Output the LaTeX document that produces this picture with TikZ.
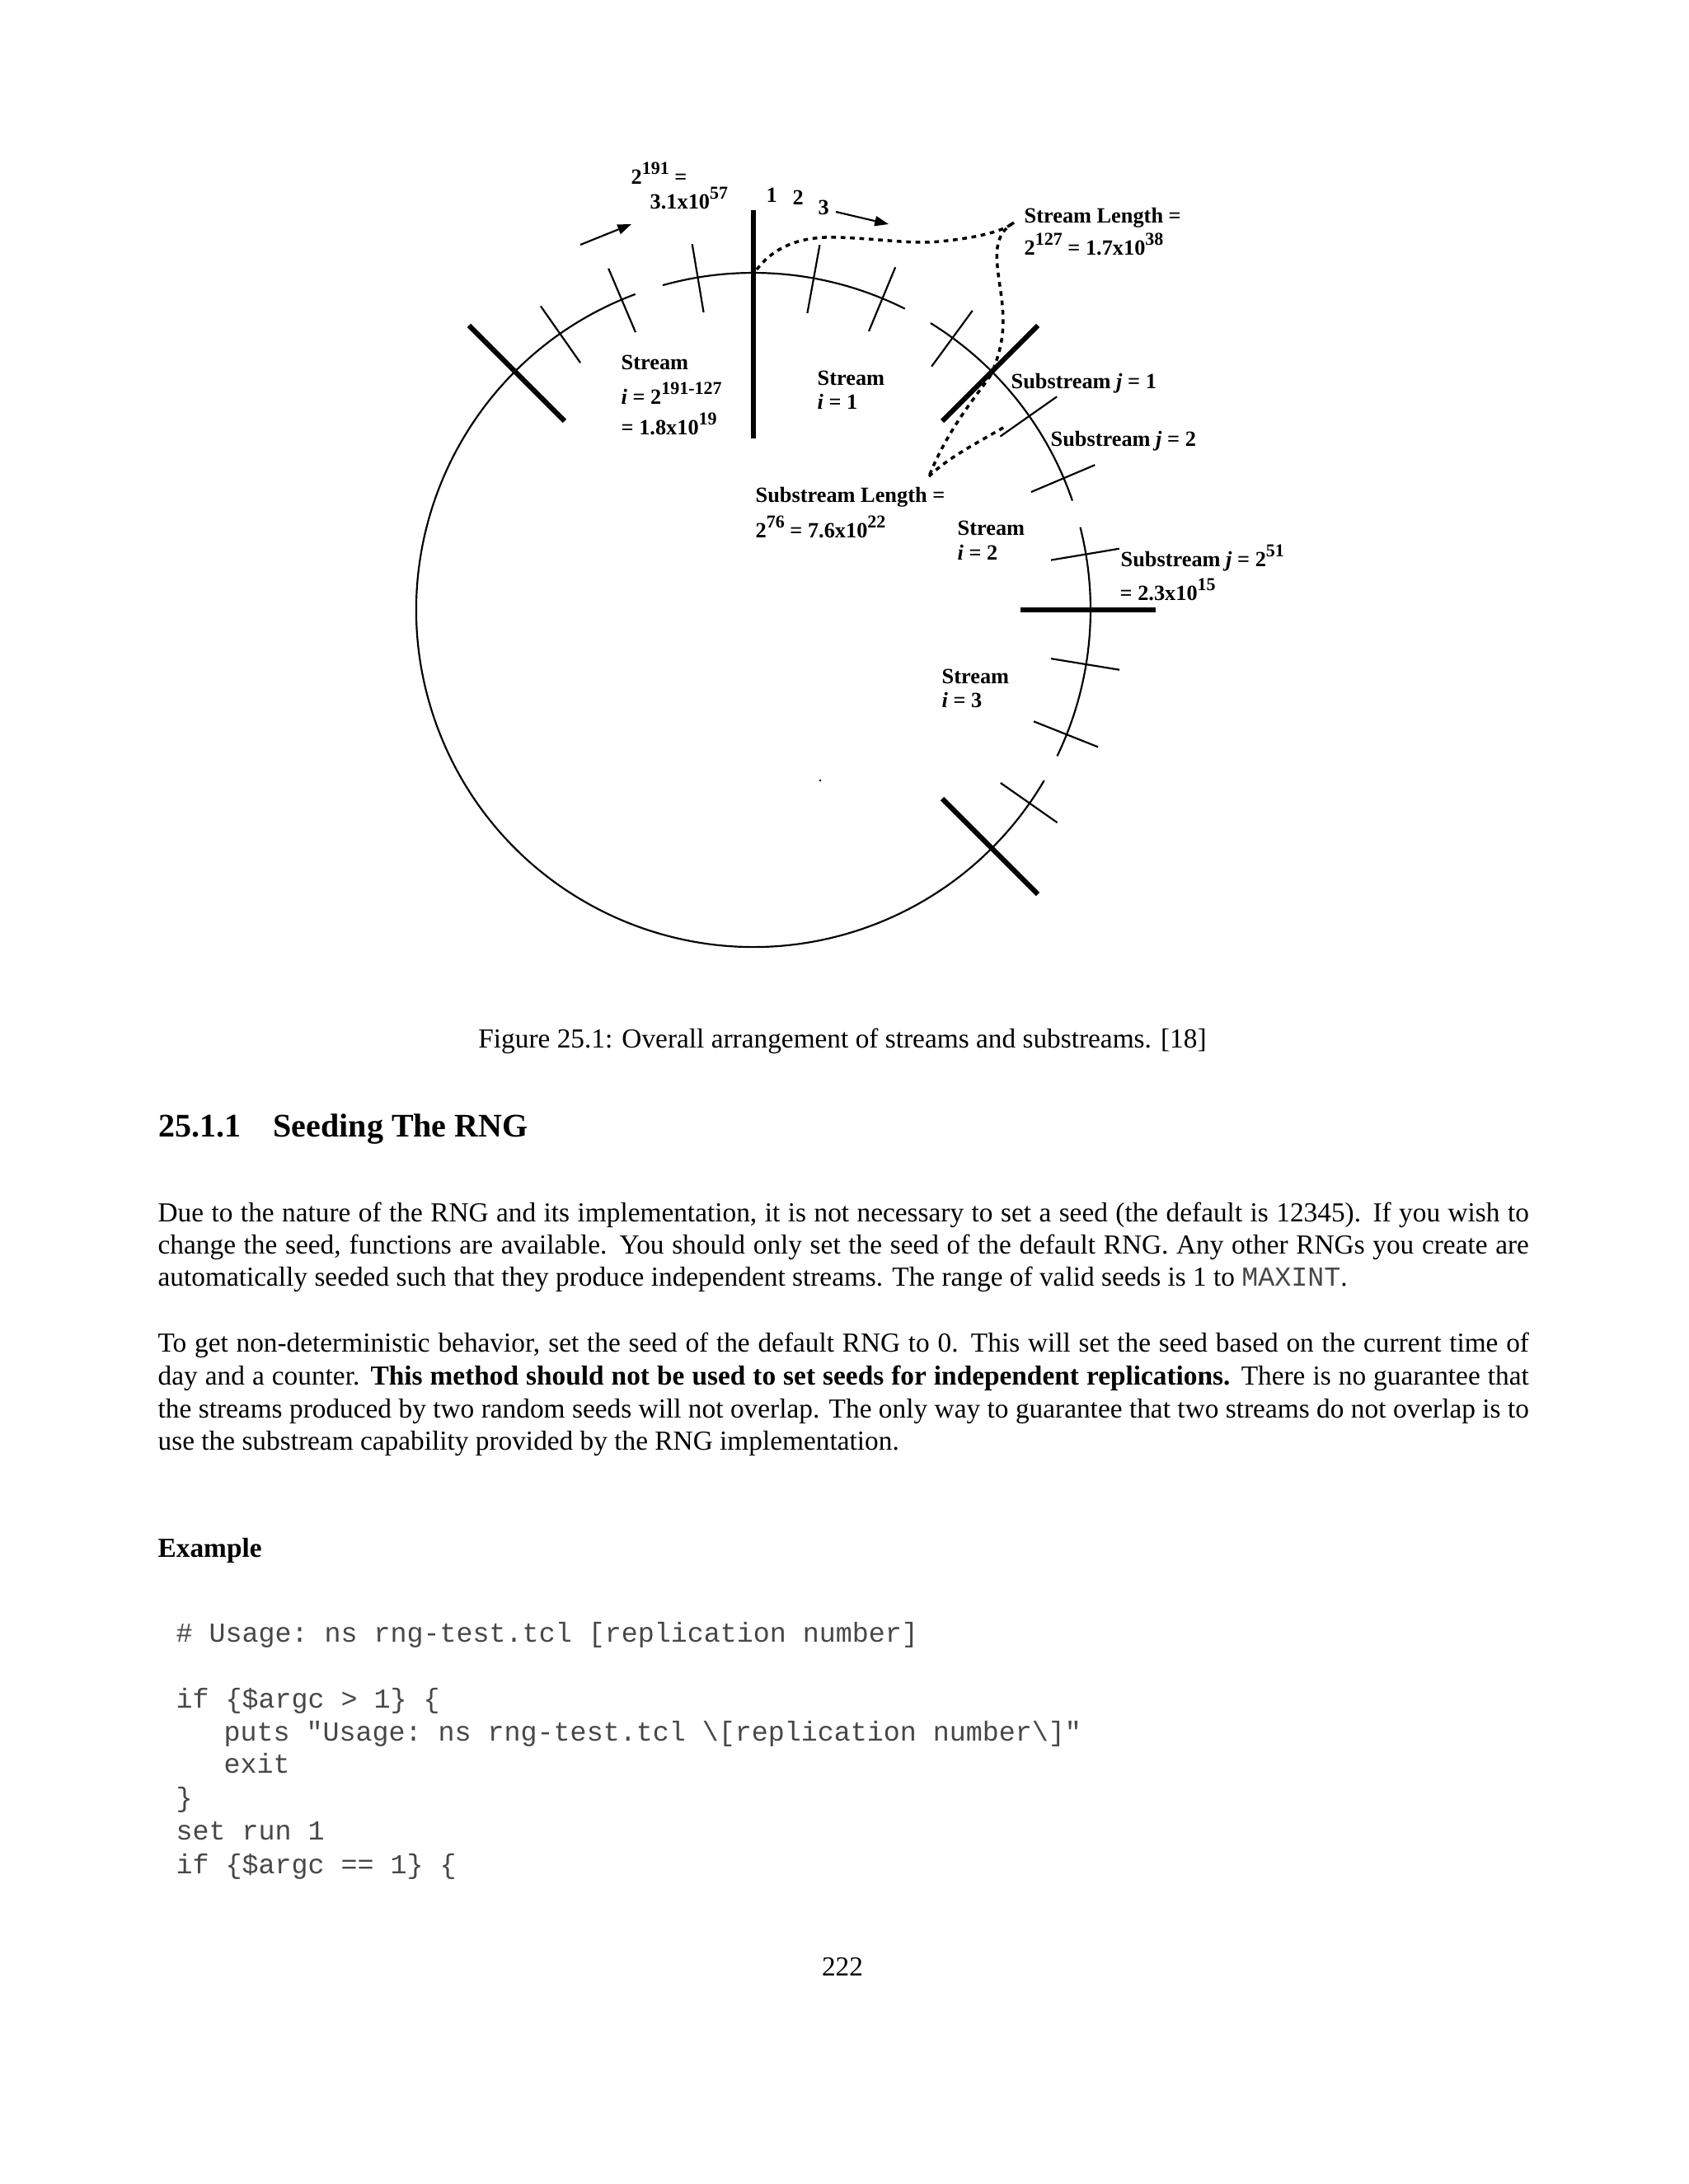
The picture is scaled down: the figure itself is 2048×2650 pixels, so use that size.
\documentclass[tikz,border=0pt]{standalone}
\usepackage{fontspec}
\setmainfont{Liberation Serif}
\setmonofont{Liberation Mono}
\usetikzlibrary{arrows.meta,calc}
\newcommand\upx[1]{\raisebox{3.4bp}{\fontsize{6.6}{6.6}\selectfont #1}}
\tikzset{
  lab/.style={font=\fontsize{7.9}{9}\selectfont\bfseries, inner sep=0pt, anchor=base west},
  body/.style={font=\fontsize{10}{12}\selectfont, inner sep=0pt, anchor=base west},
  code/.style={font=\fontsize{10}{12}\selectfont\ttfamily, text=black!72, inner sep=0pt, anchor=base west},
  thinline/.style={line width=0.65bp},
  thickline/.style={line width=1.8bp},
  dots/.style={line width=1.05bp, dash pattern=on 1.7bp off 1.7bp},
  arr/.style={line width=0.65bp, -{Triangle[length=5bp,width=3.6bp]}},
}
\begin{document}
\begin{tikzpicture}[x=0.29883bp, y=-0.29883bp]
\useasboundingbox (0,0) rectangle (2048,2650);
\fill[white] (0,0) rectangle (2048,2650);
\coordinate (C) at (914,740);
% circle, drawn in four pieces with small gaps
\draw[thinline] ($(C)+(-110.5:409)$) arc[start angle=-110.5, end angle=-329.6, radius=409];
\draw[thinline] ($(C)+(25.7:409)$) arc[start angle=25.7, end angle=-14.2, radius=409];
\draw[thinline] ($(C)+(-18.9:409)$) arc[start angle=-18.9, end angle=-58.3, radius=409];
\draw[thinline] ($(C)+(-63.3:409)$) arc[start angle=-63.3, end angle=-105.6, radius=409];
% thin ticks (substream boundaries)
\foreach \a in {-125,-113,-99.5,-79.7,-67.5,-53.8,-35.1,-23,-9.5,9.3,21.7,35}
  \draw[thinline] ($(C)+(\a:366)$) -- ($(C)+(\a:450)$);
% thick ticks (stream boundaries)
\foreach \a in {-135,-45,0,45}
  \draw[thickline] ($(C)+(\a:324)$) -- ($(C)+(\a:488)$);
\draw[thickline] ($(C)+(-90:208)$) -- ($(C)+(-90:485)$);
% reference points for the dotted braces
\coordinate (P90) at (918,327);
\coordinate (SL) at (1230,270);
\coordinate (P45) at (1202,455);
\coordinate (SSL) at (1127,578);
\coordinate (P35) at (1222,516);
\draw[dots] (P90) .. controls (935,305) and (960,290) .. (1000,288)
  .. controls (1050,287) and (1100,297) .. (1140,293)
  .. controls (1180,289) and (1215,282) .. (SL);
\draw[dots] (SL) .. controls (1205,285) and (1208,310) .. (1212,340)
  .. controls (1218,380) and (1222,410) .. (P45);
\draw[dots] (P45) .. controls (1185,480) and (1150,520) .. (SSL);
\draw[dots] (SSL) .. controls (1150,555) and (1190,535) .. (P35);
% arrows
\coordinate (a1s) at (704,297); \coordinate (a1e) at (766,272);
\coordinate (a2s) at (1014,257); \coordinate (a2e) at (1078,272);
\draw[arr] (a1s) -- (a1e);
\draw[arr] (a2s) -- (a2e);
% stray dot
\fill (995,947) circle (1.3);
% labels
\node[lab] (t1) at (765,223) {2\upx{191} =};
\node[lab] (t2) at (788,253) {3.1x10\upx{57}};
\node[lab] (n1) at (929,245) {1};
\node[lab] (n2) at (961,248) {2};
\node[lab] (n3) at (992,260) {3};
\node[lab] (s0a) at (753,448) {Stream};
\node[lab] (s0b) at (753,490) {\textit{i} = 2\upx{191-127}};
\node[lab] (s0c) at (753,527) {= 1.8x10\upx{19}};
\node[lab] (s1a) at (991,467) {Stream};
\node[lab] (s1b) at (991,496) {\textit{i} = 1};
\node[lab] (sla) at (1242,270) {Stream Length =};
\node[lab] (slb) at (1242,309) {2\upx{127} = 1.7x10\upx{38}};
\node[lab] (j1) at (1226,471) {Substream \textit{j} = 1};
\node[lab] (j2) at (1274,541) {Substream \textit{j} = 2};
\node[lab] (ssla) at (916,609) {Substream Length =};
\node[lab] (sslb) at (916,652) {2\upx{76} = 7.6x10\upx{22}};
\node[lab] (s2a) at (1161,649) {Stream};
\node[lab] (s2b) at (1161,679) {\textit{i} = 2};
\node[lab] (j3a) at (1359,687) {Substream \textit{j} = 2\upx{51}};
\node[lab] (j3b) at (1358,728) {= 2.3x10\upx{15}};
\node[lab] (s3a) at (1142,829) {Stream};
\node[lab] (s3b) at (1142,858) {\textit{i} = 3};
% caption
\node[body, anchor=base] (cap) at (1022,1271) {Figure 25.1: Overall arrangement of streams and substreams. [18]};
% section heading
\node[body, font=\fontsize{12}{14}\selectfont\bfseries] (secn) at (192,1379) {25.1.1};
\node[body, font=\fontsize{12}{14}\selectfont\bfseries] (sect) at (331,1379) {Seeding The RNG};
% paragraph 1
\node[body] (p1a) at (191,1482) {\makebox[497bp][s]{Due to the nature of the RNG and its implementation, it is not necessary to set a seed (the default is 12345). If you wish to}};
\node[body] (p1b) at (191,1521) {\makebox[497bp][s]{change the seed, functions are available. You should only set the seed of the default RNG. Any other RNGs you create are}};
\node[body] (p1c) at (191,1560) {automatically seeded such that they produce independent streams. The range of valid seeds is 1 to \texttt{\color{black!72}MAXINT}.};
% paragraph 2
\node[body] (p2a) at (191,1640) {\makebox[497bp][s]{To get non-deterministic behavior, set the seed of the default RNG to 0. This will set the seed based on the current time of}};
\node[body] (p2b) at (191,1680) {\makebox[497bp][s]{day and a counter. \textbf{This method should not be used to set seeds for independent replications.} There is no guarantee that}};
\node[body] (p2c) at (191,1720) {\makebox[497bp][s]{the streams produced by two random seeds will not overlap. The only way to guarantee that two streams do not overlap is to}};
\node[body] (p2d) at (191,1759) {use the substream capability provided by the RNG implementation.};
% example heading
\node[body, font=\fontsize{10}{12}\selectfont\bfseries] (ex) at (191,1889) {Example};
% code
\node[code] (c1) at (213,1992) {\# Usage: ns rng-test.tcl [replication number]};
\node[code] (c2) at (213,2072) {if \{\$argc > 1\} \{};
\node[code] (c3) at (271,2112) {puts "Usage: ns rng-test.tcl \textbackslash[replication number\textbackslash]"};
\node[code] (c4) at (271,2151) {exit};
\node[code] (c5) at (213,2192) {\}};
\node[code] (c6) at (213,2232) {set run 1};
\node[code] (c7) at (213,2273) {if \{\$argc == 1\} \{};
% page number
\node[body, anchor=base] (pg) at (1022,2397) {222};
\end{tikzpicture}
\end{document}
